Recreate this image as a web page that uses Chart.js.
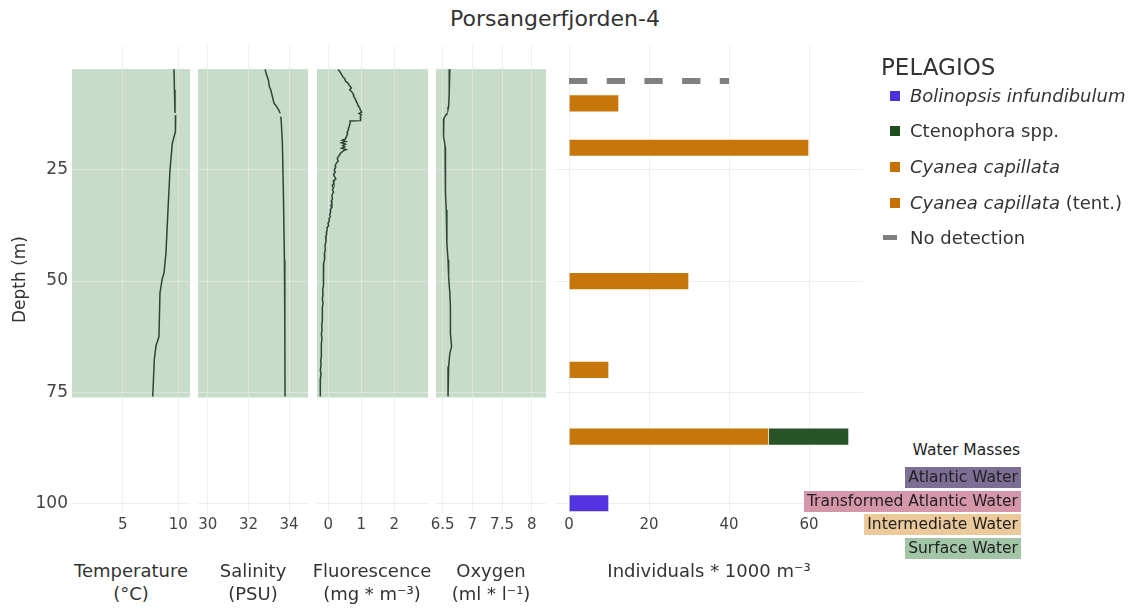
<!DOCTYPE html>
<html>
<head>
<meta charset="utf-8">
<script src="https://cdn.jsdelivr.net/npm/chart.js@4.4.1/dist/chart.umd.min.js"></script>
<style>
  body { margin: 0; background: #fff; }
  #wrap { position: relative; width: 1148px; height: 608px; overflow: hidden;
          font-family: 'DejaVu Sans', Verdana, sans-serif; color: #333; }
  #wrap canvas { position: absolute; }
  .t { position: absolute; white-space: nowrap; }
  .ax { position: absolute; text-align: center; font-size: 18px; line-height: 23px; color: #333; transform: translateX(-50%); white-space: nowrap; }
  .lg { position: absolute; left: 890px; font-size: 18px; line-height: 24px; white-space: nowrap; color: #333; }
  .lg i.sw { display: inline-block; width: 10px; height: 10px; margin-right: 10px; vertical-align: 1px; }
  .wm { position: absolute; right: 127px; font-size: 15.5px; line-height: 21px; padding: 0 3px; color: #222; white-space: nowrap; }
</style>
</head>
<body>
<div id="wrap">
  <div class="t" style="left:0;width:1110px;top:6px;text-align:center;font-size:22px;color:#333;">Porsangerfjorden-4</div>

  <canvas id="cTemp" width="210" height="497" style="left:0;top:46px"></canvas>
  <canvas id="cSal" width="150" height="497" style="left:178px;top:46px"></canvas>
  <canvas id="cFluor" width="151" height="497" style="left:297px;top:46px"></canvas>
  <canvas id="cOxy" width="150" height="497" style="left:416px;top:46px"></canvas>
  <canvas id="cBar" width="348" height="497" style="left:535px;top:46px"></canvas>

  <div class="ax" style="left:131px;top:559px">Temperature<br>(°C)</div>
  <div class="ax" style="left:253px;top:559px">Salinity<br>(PSU)</div>
  <div class="ax" style="left:372px;top:559px">Fluorescence<br>(mg * m⁻³)</div>
  <div class="ax" style="left:491px;top:559px">Oxygen<br>(ml * l⁻¹)</div>
  <div class="ax" style="left:709px;top:559px">Individuals * 1000 m⁻³</div>

  <div class="t" style="left:881px;top:54px;font-size:23px;color:#333;">PELAGIOS</div>
  <div class="lg" style="top:84px"><i class="sw" style="background:#4d2fdc"></i><em>Bolinopsis infundibulum</em></div>
  <div class="lg" style="top:119px"><i class="sw" style="background:#1f4d1f"></i>Ctenophora spp.</div>
  <div class="lg" style="top:155px"><i class="sw" style="background:#c57000"></i><em>Cyanea capillata</em></div>
  <div class="lg" style="top:191px"><i class="sw" style="background:#c57000"></i><em>Cyanea capillata</em> (tent.)</div>
  <div class="lg" style="top:226px;left:883px"><i class="sw" style="background:#808080;width:14px;height:5px;margin-right:13px;vertical-align:4px"></i>No detection</div>

  <div class="t" style="right:128px;top:441px;font-size:15.5px;color:#222;">Water Masses</div>
  <div class="wm" style="top:467px;background:#7d6e96">Atlantic Water</div>
  <div class="wm" style="top:491px;background:#d696a9">Transformed Atlantic Water</div>
  <div class="wm" style="top:514px;background:#ecc99a">Intermediate Water</div>
  <div class="wm" style="top:538px;background:#a3c5a7">Surface Water</div>
</div>

<script>
// depth axis (m), shared by every panel
const depthTicks = [25, 50, 75, 100];
const depthMin = -2.9, depthMax = 102.2;
// surface water band behind the CTD profiles
const waterTop = 2.3, waterBottom = 76.2;

// CTD profiles (null = missing sample)
const tempDepth = [2.35, 7, 12.2, 12.4, 12.7, 16.4, 19, 25, 32.5, 43.7, 48.2, 49.5, 52.7, 62.5, 64.6, 67.7, 76];
const tempVal   = [9.61, 9.65, 9.70, null, 9.76, 9.74, 9.46, 9.25, 9.10, 8.89, 8.71, 8.55, 8.35, 8.26, 7.99, 7.84, 7.70];
const tempTicks = [5, 10];

const salDepth = [2.35, 3.25, 4.75, 6.25, 7, 8.5, 10, 10.75, 11.5, 12.25, 12.5, 13, 13.75, 19, 30.3, 45.3, 60.3, 76];
const salVal   = [32.82, 32.87, 32.98, 33.03, 33.10, 33.18, 33.26, 33.39, 33.49, 33.56, null, 33.59, 33.61, 33.67, 33.72, 33.77, 33.79, 33.80];
const salTicks = [30, 32, 34];

const fluorDepth = [2.4, 3, 3.5, 4, 4.5, 5, 5.5, 6, 6.5, 7, 7.5, 8, 8.5, 9, 9.5, 10, 10.5, 11, 11.5, 12, 12.3, 12.6, 13, 13.5, 13.9,
  14, 14.5, 15, 15.5, 16, 16.5, 17, 17.5, 18, 18.3, 18.6, 18.9, 19.2, 19.5, 19.8, 20.1, 20.4, 20.7, 21, 21.3, 21.6, 22, 22.5,
  23, 23.5, 24, 24.5, 25, 25.5, 26, 26.5, 27, 27.5, 28, 28.5, 29, 29.5, 30, 30.5, 31, 31.5, 32, 32.5, 33, 33.5, 34, 34.5, 35,
  35.5, 36, 36.5, 37, 37.5, 38, 38.5, 39, 39.5, 40, 41, 42, 43, 44, 45, 46, 47, 48, 49, 50, 51, 52, 53, 54, 55, 56, 57, 58,
  59, 60, 61, 62, 63, 64, 65, 66, 67, 68, 69, 70, 71, 72, 73, 74, 75, 76];
const fluorVal = [0.30, 0.36, 0.40, 0.44, 0.50, 0.52, 0.60, 0.64, 0.70, 0.65, 0.72, 0.76, 0.77, 0.82, 0.84, 0.88, 0.90, 0.95, 0.97, 1.01, 0.93, 1.00, 0.97, 0.98, 0.98,
  0.66, 0.66, 0.64, 0.62, 0.61, 0.57, 0.58, 0.55, 0.52, 0.42, 0.53, 0.40, 0.52, 0.44, 0.50, 0.40, 0.54, 0.45, 0.41, 0.36, 0.35, 0.30, 0.27,
  0.30, 0.24, 0.21, 0.22, 0.18, 0.21, 0.16, 0.19, 0.23, 0.15, 0.17, 0.12, 0.15, 0.13, 0.16, 0.12, 0.11, 0.13, 0.09, 0.11, 0.08, 0.10, 0.06, 0.07, 0.04,
  0.06, 0.02, 0.03, -0.01, 0.01, -0.04, -0.03, -0.06, -0.05, -0.08, -0.07, -0.10, -0.09, -0.12, -0.11, -0.14, -0.13, -0.15, -0.14, -0.16, -0.15, -0.17, -0.16, -0.18, -0.16, -0.18, -0.17, -0.19,
  -0.18, -0.20, -0.19, -0.21, -0.19, -0.21, -0.20, -0.22, -0.21, -0.23, -0.22, -0.24, -0.22, -0.24, -0.23, -0.25, -0.24, -0.25];
const fluorTicks = [0, 1, 2];

const oxyDepth = [2.35, 4.75, 7.75, 10.75, 11.35, 11.8, 12.25, 13.4, 14.5, 16, 17.5, 18.6, 19.75, 22.75, 26.5, 30.25, 34, 37.75, 41.5,
  45.25, 49, 52.75, 55.75, 58.75, 61.75, 64.75, 66.25, 69.25, 72.25, 76];
const oxyVal   = [6.62, 6.61, 6.61, 6.60, 6.59, null, 6.57, 6.52, 6.51, 6.52, 6.51, 6.53, 6.54, 6.55, 6.54, 6.55, 6.56, 6.57, 6.57,
  6.59, 6.60, 6.62, 6.63, 6.63, 6.63, 6.65, 6.62, 6.60, 6.59, 6.59];
const oxyTicks = [6.5, 7, 7.5, 8];

// PELAGIOS counts, individuals * 1000 m^-3
const cyaneaDepth = [10, 20, 50, 70];
const cyaneaVal   = [12.5, 60, 30, 10];
const cyaneaTentDepth = [85];
const cyaneaTentVal   = [50];
const ctenoDepth = [85];
const ctenoVal   = [20];
const bolinDepth = [100];
const bolinVal   = [10];
const noDetDepth = [5, 5];
const noDetVal   = [0, 40];
const barTicks = [0, 20, 40, 60];

Chart.defaults.font.family = "'DejaVu Sans', Verdana, sans-serif";
Chart.defaults.color = '#444';

const pairs = (d, v) => d.map((y, i) => ({ x: v[i], y }));
const fixTicks = list => s => { s.ticks = list.map(v => ({ value: v })); };

const shade = {
  id: 'shade',
  beforeDraw(chart, args, opts) {
    if (!opts.on) return;
    const { ctx, chartArea: a, scales: { y } } = chart;
    const t = y.getPixelForValue(waterTop), b = y.getPixelForValue(waterBottom);
    ctx.save();
    ctx.fillStyle = 'rgba(164,198,168,0.62)';
    ctx.fillRect(a.left, t, a.right - a.left, b - t);
    ctx.restore();
  }
};

function yScale(withLabels) {
  return {
    type: 'linear', reverse: true, min: depthMin, max: depthMax, offset: false,
    afterBuildTicks: fixTicks(depthTicks),
    afterFit: s => { s.width = withLabels ? 72 : 0; s.paddingTop = 0; s.paddingBottom = 0; },
    border: { display: false },
    grid: { color: 'rgba(232,232,232,0.7)', drawTicks: false, offset: false },
    ticks: { display: withLabels, padding: 4, font: { size: 17 }, color: '#444' },
    title: { display: withLabels, text: 'Depth (m)', font: { size: 17 }, color: '#333', padding: { top: 10 } }
  };
}

function xScale(min, max, ticks, stacked) {
  return {
    type: 'linear', min, max, stacked: !!stacked,
    afterBuildTicks: fixTicks(ticks),
    afterFit: s => { s.height = 30; s.paddingLeft = 0; s.paddingRight = 0; },
    border: { display: false },
    grid: { color: 'rgba(232,232,232,0.7)', drawTicks: false },
    ticks: { padding: 3, font: { size: 15 }, color: '#444', callback: v => String(v) }
  };
}

function profile(id, depth, vals, xmin, xmax, ticks, withY) {
  new Chart(document.getElementById(id), {
    type: 'line',
    data: { datasets: [{
      data: pairs(depth, vals),
      borderColor: '#2f4536', borderWidth: 1.5, pointRadius: 0, tension: 0, spanGaps: false
    }] },
    options: {
      indexAxis: 'y', responsive: false, animation: false,
      layout: { padding: { left: withY ? 0 : 20, right: 20, top: 0, bottom: 0 } },
      plugins: { legend: { display: false }, tooltip: { enabled: false }, shade: { on: true } },
      scales: { x: xScale(xmin, xmax, ticks), y: yScale(withY) }
    },
    plugins: [shade]
  });
}

profile('cTemp', tempDepth, tempVal, 0.44, 11.05, tempTicks, true);
profile('cSal', salDepth, salVal, 29.52, 34.93, salTicks, false);
profile('cFluor', fluorDepth, fluorVal, -0.342, 3.02, fluorTicks, false);
profile('cOxy', oxyDepth, oxyVal, 6.387, 8.241, oxyTicks, false);

const barOpts = { barThickness: 17.5, borderWidth: 1, borderColor: 'rgba(255,255,255,0.3)' };
new Chart(document.getElementById('cBar'), {
  type: 'bar',
  data: { datasets: [
    { label: 'Cyanea capillata', data: pairs(cyaneaDepth, cyaneaVal), backgroundColor: 'rgba(197,112,0,0.96)', ...barOpts },
    { label: 'Cyanea capillata (tent.)', data: pairs(cyaneaTentDepth, cyaneaTentVal), backgroundColor: 'rgba(197,112,0,0.96)', ...barOpts },
    { label: 'Ctenophora spp.', data: pairs(ctenoDepth, ctenoVal), backgroundColor: 'rgba(30,76,30,0.96)', ...barOpts },
    { label: 'Bolinopsis infundibulum', data: pairs(bolinDepth, bolinVal), backgroundColor: 'rgba(74,44,220,0.96)', ...barOpts },
    { type: 'line', label: 'No detection', data: pairs(noDetDepth, noDetVal), stack: 'nd',
      borderColor: '#808080', borderWidth: 6, borderDash: [18.3, 19.4], pointRadius: 0 }
  ] },
  options: {
    indexAxis: 'y', responsive: false, animation: false,
    layout: { padding: { left: 20, right: 20, top: 0, bottom: 0 } },
    plugins: { legend: { display: false }, tooltip: { enabled: false } },
    scales: {
      x: xScale(-3.5, 73.5, barTicks, true),
      y: Object.assign(yScale(false), { stacked: true })
    }
  }
});
</script>
</body>
</html>
